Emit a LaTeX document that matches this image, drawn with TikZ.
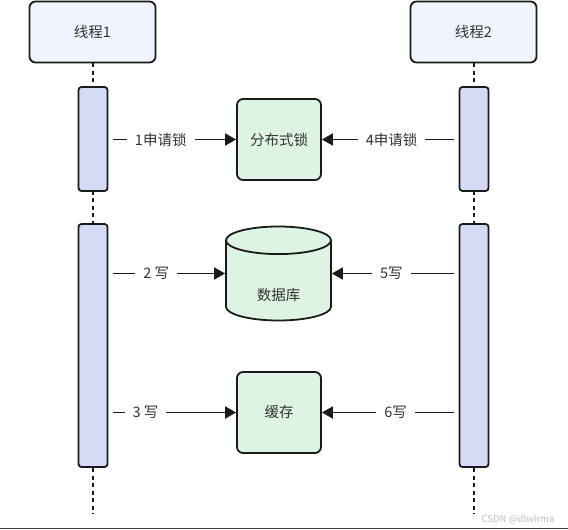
\documentclass[tikz,border=0pt]{standalone}
\usepackage{fontspec}
\setmainfont{Noto Sans CJK SC}
\usetikzlibrary{arrows.meta,positioning,shapes.geometric}
\definecolor{threadbg}{HTML}{EEF3FD}
\definecolor{actbg}{HTML}{D5DBF5}
\definecolor{resbg}{HTML}{DDF4E4}
\definecolor{ink}{HTML}{1A1A1A}
\definecolor{txt}{HTML}{333333}
\definecolor{wmark}{HTML}{BDBDBD}

\begin{document}
\begin{tikzpicture}[x=1pt,y=-1pt,font=\fontsize{14.5}{16}\selectfont,
   thread/.style={draw=ink,fill=threadbg,line width=1.8pt,rounded corners=6pt,minimum width=126pt,minimum height=61pt,text=txt},
   act/.style={draw=ink,fill=actbg,line width=1.8pt,rounded corners=3pt,minimum width=29pt},
   res/.style={draw=ink,fill=resbg,line width=1.8pt,rounded corners=6pt,minimum width=84pt,minimum height=81pt,text=txt},
   store/.style={draw=ink,fill=resbg,line width=1.8pt,cylinder,shape border rotate=90,aspect=0.55,minimum width=105pt,minimum height=94pt,text=txt,text height=36pt,text depth=2pt},
   life/.style={ink,line width=2pt,dash pattern=on 4pt off 3.5pt},
   msg/.style={-{Triangle[length=11pt,width=12pt]},ink,line width=1.8pt,shorten <=5pt},
   lbl/.style={fill=white,inner xsep=8pt,text=txt}]
  \useasboundingbox (0,0) rectangle (568,530);
  % lifelines
  \node[thread] (t1) at (92.5,32) {线程1};
  \node[thread] (t2) at (473.5,32) {线程2};
  \coordinate (e1) at (92.5,514);
  \coordinate (e2) at (473.5,514);
  \draw[life] (t1) -- (e1);
  \draw[life] (t2) -- (e2);
  \node[act,minimum height=104pt] (a1) at (93,139) {};
  \node[act,minimum height=243pt] (a2) at (93,345.5) {};
  \node[act,minimum height=104pt] (b1) at (474,139) {};
  \node[act,minimum height=243pt] (b2) at (474,345.5) {};
  % shared resources
  \node[res] (lk) at (279,139.5) {分布式锁};
  \node[store,anchor=shape center] (db) at (278.5,273.5) {数据库};
  \node[res] (ch) at (279,412.5) {缓存};
  % requests
  \draw[msg] (a1.east |- lk.west) -- node[lbl,pos=0.41] {1申请锁} (lk.west);
  \draw[msg] (b1.west |- lk.east) -- node[lbl,pos=0.49] {4申请锁} (lk.east);
  \draw[msg] (a2.east |- db.shape center) -- node[lbl,pos=0.41] {2 写} (db.shape center -| db.west);
  \draw[msg] (b2.west |- db.shape center) -- node[lbl,pos=0.53] {5写} (db.shape center -| db.east);
  \draw[msg] (a2.east |- ch.west) -- node[lbl,pos=0.29] {3 写} (ch.west);
  \draw[msg] (b2.west |- ch.east) -- node[lbl,pos=0.46] {6写} (ch.east);
  \node[text=wmark,font=\fontsize{9.5}{11}\selectfont] (wm) at (518,519.5) {CSDN @dlwlrma};
  \draw[black!75,line width=1pt] (0,528.5) -- (568,528.5);
\end{tikzpicture}
\end{document}
